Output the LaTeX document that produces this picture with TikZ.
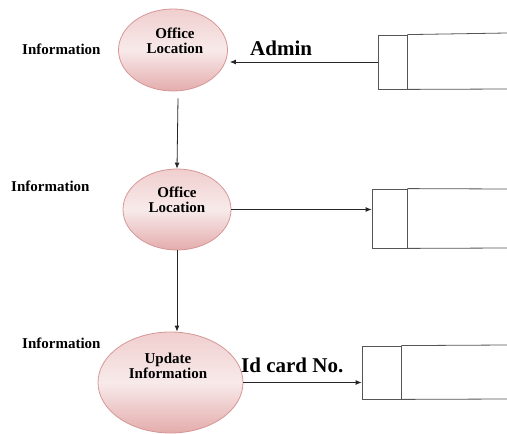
\documentclass[tikz,border=0pt]{standalone}
\usepackage{fontspec}
\setmainfont{Liberation Serif}
\usetikzlibrary{arrows.meta,shapes.geometric}
\definecolor{procTop}{RGB}{240,206,206}
\definecolor{procMid}{RGB}{248,234,234}
\definecolor{procBot}{RGB}{228,172,172}
\definecolor{procLine}{RGB}{214,150,150}
\definecolor{storeLine}{RGB}{85,85,85}
\tikzset{
  proc/.style={ellipse, draw=procLine, line width=0.8pt, top color=procTop, bottom color=procBot, middle color=procMid, inner sep=0pt},
  ptext/.style={font=\fontsize{15}{15}\selectfont\bfseries, align=center, inner sep=0pt},
  side/.style={font=\fontsize{15}{15}\selectfont\bfseries, inner sep=0pt},
  flowlbl/.style={font=\fontsize{21}{21}\selectfont\bfseries, inner sep=0pt},
  storebox/.style={draw=storeLine, line width=0.8pt, inner sep=0pt},
  storeline/.style={draw=storeLine, line width=0.8pt},
  arr/.style={draw=black!85, line width=0.8pt, -{Latex[length=6pt,width=5pt]}}
}
\begin{document}
\begin{tikzpicture}[x=1pt,y=-1pt]
\useasboundingbox (0,0) rectangle (507,434);
% processes
\node[proc, minimum width=109pt, minimum height=82pt] (e1) at (173,50) {};
\node[proc, minimum width=108pt, minimum height=81pt] (e2) at (177,209.5) {};
\node[proc, minimum width=145pt, minimum height=101pt] (e3) at (170.5,382.5) {};
\node[ptext] (t1) at (175,40.5) {Office\\Location};
\node[ptext] (t2) at (177,199.5) {Office\\Location};
\node[ptext] (t3) at (168,366) {Update\\Information};
% side labels
\node[side, anchor=west] (i1) at (22,49) {Information};
\node[side, anchor=west] (i2) at (11,186) {Information};
\node[side, anchor=west] (i3) at (22,343) {Information};
% data stores
\node[storebox, minimum width=29pt, minimum height=54pt] (s1) at (392.5,62) {};
\node[storebox, minimum width=35pt, minimum height=59pt] (s2) at (389.5,218.5) {};
\node[storebox, minimum width=39pt, minimum height=53pt] (s3) at (381.5,372.5) {};
\draw[storeline] (s1.north east) -- (507,33);
\draw[storeline] (s1.south east) -- (507,89);
\draw[storeline] (s2.north east) -- (507,189);
\draw[storeline] (s2.south east) -- (507,248);
\draw[storeline] (s3.north east) -- (507,345);
\draw[storeline] (s3.south east) -- (507,399);
% flows
\draw[arr] (s1.west) -- ([xshift=2pt]s1.west -| e1.east);
\node[flowlbl, anchor=west] (a1) at (250,48) {Admin};
\draw[arr] ([xshift=5pt,yshift=-7pt]e1.south) -- (e2.north);
\draw[arr] (e2.east) -- (e2.east -| s2.west);
\draw[arr] (e2.south) -- (e2.south |- e3.north);
\draw[arr] (e3.east) -- (e3.east -| s3.west);
\node[flowlbl, anchor=west] (a3) at (241,365) {Id card No.};
\end{tikzpicture}
\end{document}
